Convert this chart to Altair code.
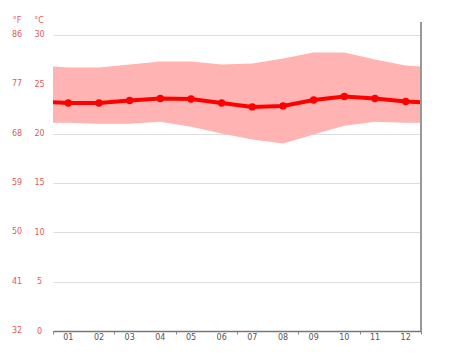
import altair as alt
import pandas as pd

months = list(range(1, 13))
month_labels = ["01", "02", "03", "04", "05", "06", "07", "08", "09", "10", "11", "12"]
t_min = [21.1, 21.0, 21.0, 21.2, 20.7, 20.0, 19.4, 19.0, 19.9, 20.8, 21.2, 21.1]
t_mean = [23.1, 23.1, 23.35, 23.55, 23.5, 23.1, 22.7, 22.8, 23.4, 23.75, 23.55, 23.25]
t_max = [26.7, 26.7, 27.0, 27.3, 27.3, 27.0, 27.1, 27.6, 28.2, 28.2, 27.5, 26.9]
c_ticks = [0, 5, 10, 15, 20, 25, 30]
f_labels = [32, 41, 50, 59, 68, 77, 86]

RED = "#ff0000"
LABEL_RED = "#e05a5a"
FONT = "DejaVu Sans"

# wrap-around edge values (average of December and January)
def edge(v):
    return (v[0] + v[-1]) / 2

xs = [0.5] + months + [12.5]
band = pd.DataFrame({
    "x": xs,
    "tmin": [edge(t_min)] + t_min + [edge(t_min)],
    "tmax": [edge(t_max)] + t_max + [edge(t_max)],
    "tmean": [edge(t_mean)] + t_mean + [edge(t_mean)],
})
pts = pd.DataFrame({"x": months, "tmean": t_mean, "lab": month_labels})
fdf = pd.DataFrame({"c": c_ticks, "f": [str(v) for v in f_labels]})
hdr = pd.DataFrame({"t": ["°F", "°C"], "px": [-36, -14]})

yscale = alt.Scale(domain=[0, 31.3], nice=False, zero=False)
xscale = alt.Scale(domain=[0.5, 12.5], nice=False, zero=False)

xaxis = alt.Axis(
    values=[m + 0.5 for m in [0] + months],
    labels=False, labelOverlap=False,
    tickSize=3, tickColor="#888888", grid=False, title=None,
    domainColor="#777777", domainWidth=1.5,
)
yaxis = alt.Axis(
    values=c_ticks, title=None, ticks=False, domain=False,
    grid=True, gridColor="#dddddd", gridWidth=1,
    labelColor=LABEL_RED, labelAlign="center", labelPadding=14,
    labelFont=FONT, labelFontSize=8,
)

area = alt.Chart(band).mark_area(color="#ffb3b3", opacity=1).encode(
    x=alt.X("x:Q", scale=xscale, axis=xaxis),
    y=alt.Y("tmax:Q", scale=yscale, axis=yaxis),
    y2="tmin:Q",
)
line = alt.Chart(band).mark_line(color=RED, strokeWidth=4).encode(
    x=alt.X("x:Q", scale=xscale),
    y=alt.Y("tmean:Q", scale=yscale),
)
points = alt.Chart(pts).mark_circle(color=RED, size=55, opacity=1).encode(
    x=alt.X("x:Q", scale=xscale),
    y=alt.Y("tmean:Q", scale=yscale),
)
mtext = alt.Chart(pts).mark_text(color="#555555", font=FONT, fontSize=8, align="center", baseline="middle").encode(
    x=alt.X("x:Q", scale=xscale),
    y=alt.value(316),
    text="lab:N",
)
ftext = alt.Chart(fdf).mark_text(color=LABEL_RED, font=FONT, fontSize=8, align="center", baseline="middle").encode(
    x=alt.value(-36),
    y=alt.Y("c:Q", scale=yscale),
    text="f:N",
)
htext = alt.Chart(hdr).mark_text(color=LABEL_RED, font=FONT, fontSize=8, align="center", baseline="middle").encode(
    x=alt.X("px:Q", scale=None),
    y=alt.value(-1),
    text="t:N",
)
border = alt.Chart(pts).mark_rule(color="#999999", strokeWidth=1.5).encode(
    x=alt.value(368), y=alt.value(0), y2=alt.value(309)
)

chart = alt.layer(area, line, points, mtext, ftext, htext, border).properties(
    width=368, height=309,
    autosize="none",
    padding={"left": 45, "top": 14, "right": 45, "bottom": 16},
).configure_view(stroke=None)

chart.save("out.html", embed_options={"renderer": "svg", "actions": False})
